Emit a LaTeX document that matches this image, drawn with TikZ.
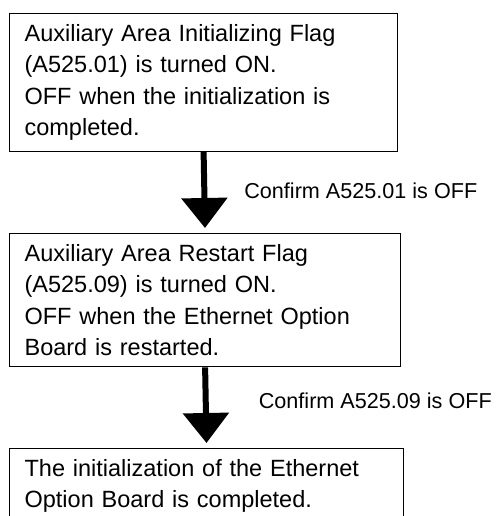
\documentclass[tikz,border=0pt]{standalone}
\usepackage{fontspec}
\setmainfont{Liberation Sans}
\usetikzlibrary{positioning,arrows.meta}

\tikzset{
  stepbox/.style={draw=black, line width=1.2, anchor=north west, inner xsep=15pt, inner ysep=11pt, align=left, font=\fontsize{23.5}{31.3}\selectfont},
  flowarrow/.style={line width=6, -{Triangle[width=45pt,length=30pt]}, shorten >=5pt},
  confirmlabel/.style={anchor=west, inner sep=0pt, font=\fontsize{21.6}{26}\selectfont}
}

\begin{document}
\begin{tikzpicture}[x=1pt,y=1pt,yscale=-1,xscale=1]

\useasboundingbox (0,0) rectangle (496,516);

% Boxes
\draw (9,13) node (init) [stepbox, text width=358pt] {Auxiliary Area Initializing Flag\\ (A525.01) is turned ON.\\ OFF when the initialization is\\ completed.};
\draw (9,233) node (restart) [stepbox, text width=361pt] {Auxiliary Area Restart Flag\\ (A525.09) is turned ON.\\ OFF when the Ethernet Option\\ Board is restarted.};
\draw (9,448) node (done) [stepbox, text width=364pt] {The initialization of the Ethernet\\ Option Board is completed.};

% Arrows
\draw [flowarrow] (init.south) -- (restart.north) node [confirmlabel, midway, xshift=37pt, yshift=2pt] (confirmA) {Confirm A525.01 is OFF};
\draw [flowarrow] (restart.south) -- (done.north) node [confirmlabel, midway, xshift=50pt, yshift=7pt] (confirmB) {Confirm A525.09 is OFF};

\end{tikzpicture}
\end{document}
